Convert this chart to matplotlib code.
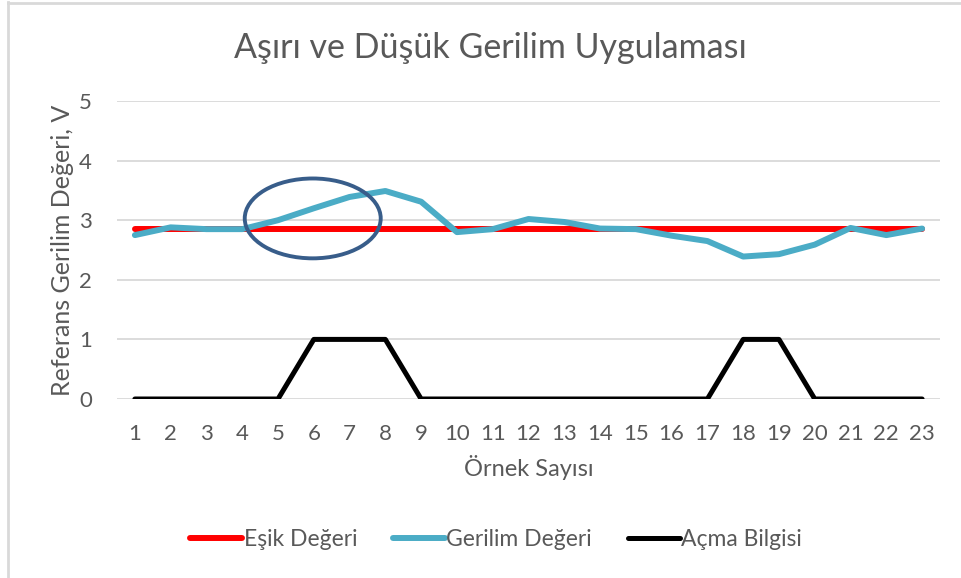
import matplotlib
matplotlib.use("Agg")
import matplotlib.pyplot as plt
from matplotlib.patches import Ellipse
from matplotlib.lines import Line2D

# Sample numbers on the category axis
samples = list(range(1, 24))

# Threshold voltage (constant reference)
esik_degeri = [2.86] * 23

# Measured reference voltage
gerilim_degeri = [2.75, 2.88, 2.85, 2.85, 3.00, 3.20, 3.39, 3.49, 3.31, 2.80,
                  2.85, 3.02, 2.97, 2.86, 2.85, 2.74, 2.65, 2.39, 2.43, 2.59,
                  2.87, 2.75, 2.86]

# Trip signal (0/1)
acma_bilgisi = [0, 0, 0, 0, 0, 1, 1, 1, 0, 0, 0, 0, 0, 0, 0, 0, 0, 1, 1, 0,
                0, 0, 0]

series_labels = ["Eşik Değeri", "Gerilim Değeri", "Açma Bilgisi"]
y_ticks = [0, 1, 2, 3, 4, 5]

TEXT = "#595959"
GRID = "#D9D9D9"
FONT = ["Lato", "DejaVu Sans"]
plt.rcParams["font.family"] = FONT

W, H = 961, 578
fig = plt.figure(figsize=(W / 100, H / 100), dpi=100)
ax = fig.add_axes([117 / W, 1 - 399 / H, 823 / W, 298 / H])

ax.plot(samples, esik_degeri, color="#FF0000", lw=4.3, solid_capstyle="round",
        label=series_labels[0], zorder=3)
ax.plot(samples, gerilim_degeri, color="#4BACC6", lw=4.3, solid_capstyle="round",
        solid_joinstyle="round", label=series_labels[1], zorder=4)
ax.plot(samples, acma_bilgisi, color="#000000", lw=3.6, solid_capstyle="round",
        label=series_labels[2], zorder=4)

# Highlight of the over-voltage region
ax.add_patch(Ellipse((5.97, 3.03), 3.8, 1.34, fill=False, edgecolor="#385D8A",
                     lw=2.8, zorder=5))

ax.set_xlim(0.5, 23.5)
ax.set_ylim(0, 5)
ax.set_xticks(samples)
ax.set_yticks(y_ticks)
ax.tick_params(length=0, labelsize=16, labelcolor=TEXT)
ax.tick_params(axis="y", pad=18)
ax.tick_params(axis="x", pad=18)
ax.grid(axis="y", color=GRID, lw=1.3)
ax.set_axisbelow(True)
for s in ax.spines.values():
    s.set_visible(False)

ax.set_xlabel("Örnek Sayısı", fontsize=17, color=TEXT, labelpad=8)
ax.set_ylabel("Referans Gerilim Değeri, V", fontsize=18, color=TEXT, labelpad=4)
fig.text(490 / W, 1 - 48 / H, "Aşırı ve Düşük Gerilim Uygulaması", fontsize=24.5,
         color=TEXT, ha="center", va="center")

handles, labels = ax.get_legend_handles_labels()
leg = fig.legend(handles, labels, loc="center", bbox_to_anchor=(496 / W, 1 - 540 / H),
                 ncol=3, frameon=False, fontsize=16.5, handlelength=2.3,
                 handletextpad=0.05, columnspacing=1.55, labelcolor=TEXT)

# Chart frame
fig.add_artist(Line2D([8 / W, 8 / W], [0, 1 - 2 / H], color=GRID, lw=2,
                      transform=fig.transFigure))
fig.add_artist(Line2D([8 / W, 1], [1 - 2.5 / H, 1 - 2.5 / H], color=GRID, lw=2,
                      transform=fig.transFigure))

fig.savefig("out.png", dpi=100)
